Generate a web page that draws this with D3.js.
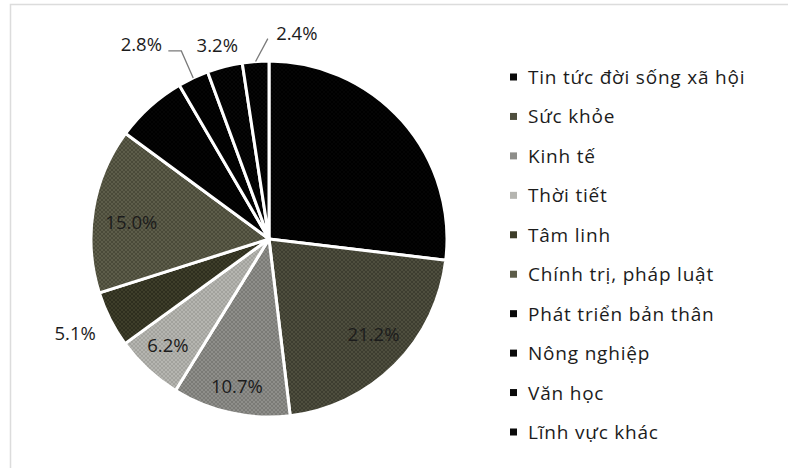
<!DOCTYPE html>
<html>
<head>
<meta charset="utf-8">
<script src="https://cdn.jsdelivr.net/npm/d3@7"></script>
<style>
  html, body { margin: 0; padding: 0; background: #ffffff; }
  svg { display: block; }
  text { font-family: "Open Sans", Lato, sans-serif; fill: #1c1c1c; }
</style>
</head>
<body>
<svg id="chart" width="795" height="471"></svg>
<script>
// Share of readers by topic (%), clockwise from 12 o'clock
const categories = [
  "Tin tức đời sống xã hội",
  "Sức khỏe",
  "Kinh tế",
  "Thời tiết",
  "Tâm linh",
  "Chính trị, pháp luật",
  "Phát triển bản thân",
  "Nông nghiệp",
  "Văn học",
  "Lĩnh vực khác"
];
const values = [26.9, 21.2, 10.7, 6.2, 5.1, 15.0, 6.5, 2.8, 3.2, 2.4];
// Which slices carry a percentage label
const showLabel = [false, true, true, true, true, true, false, true, true, true];

// Slice fills: base tone and a darker speckle tone for the halftone texture
const fills = [
  ["#050505", "#000000"],
  ["#4e4e3e", "#3d3d30"],
  ["#8e8e8a", "#7a7a76"],
  ["#b5b5b0", "#a2a29d"],
  ["#3e3e2a", "#2e2e1e"],
  ["#5d5d4a", "#4a4a39"],
  ["#050505", "#000000"],
  ["#050505", "#000000"],
  ["#070707", "#000000"],
  ["#060606", "#000000"]
];

// Label placement: radius as a fraction of the pie radius, plus an angular nudge (degrees)
const labelPlace = [
  null,
  { rf: 0.79, da: -3 },
  { rf: 0.84, da: 0 },
  { rf: 0.82, da: 1 },
  { rf: 1.21, da: 1 },
  { rf: 0.78, da: -2 },
  null,
  { rf: 1.31, da: -8 },
  { rf: 1.13, da: -0.5 },
  { rf: 1.17, da: 12 }
];

const svg = d3.select("#chart");
const cx = 269, cy = 239, R = 178;

// faint frame around the chart area
svg.append("path")
  .attr("d", "M10.5,468 L10.5,4.5 L788,4.5")
  .attr("fill", "none")
  .attr("stroke", "#dcdcdc")
  .attr("stroke-width", 1.5);

// halftone textures
const defs = svg.append("defs");
fills.forEach((f, i) => {
  const p = defs.append("pattern")
    .attr("id", "tex" + i)
    .attr("patternUnits", "userSpaceOnUse")
    .attr("width", 4).attr("height", 4);
  p.append("rect").attr("width", 4).attr("height", 4).attr("fill", f[0]);
  p.append("rect").attr("x", 0).attr("y", 0).attr("width", 2).attr("height", 2).attr("fill", f[1]);
  p.append("rect").attr("x", 2).attr("y", 2).attr("width", 2).attr("height", 2).attr("fill", f[1]);
});

const pie = d3.pie().sort(null).value(d => d)(values);
const arc = d3.arc().innerRadius(0).outerRadius(R);

const g = svg.append("g").attr("transform", `translate(${cx},${cy})`);

g.selectAll("path.slice")
  .data(pie)
  .join("path")
  .attr("class", "slice")
  .attr("d", arc)
  .attr("fill", (d, i) => `url(#tex${i})`)
  .attr("stroke", "#ffffff")
  .attr("stroke-width", 3)
  .attr("stroke-linejoin", "round");

// polar helper: angle measured clockwise from 12 o'clock
const polar = (a, r) => [r * Math.sin(a), -r * Math.cos(a)];
const mid = d => (d.startAngle + d.endAngle) / 2;

const labelPos = (d, i) => {
  const lp = labelPlace[i];
  return polar(mid(d) + lp.da * Math.PI / 180, R * lp.rf);
};

// leader lines for the small outer slices
const leaders = [
  { i: 7, path: d => {
      const p0 = polar(mid(d), R);
      const lab = labelPos(d, 7);
      return [p0, [lab[0] + 40, lab[1] + 7], [lab[0] + 27, lab[1] + 7]];
    } },
  { i: 9, path: d => {
      const p0 = polar(mid(d), R);
      const lab = labelPos(d, 9);
      return [p0, [lab[0] - 29, lab[1] + 6]];
    } }
];
leaders.forEach(L => {
  g.append("path")
    .attr("d", d3.line()(L.path(pie[L.i])))
    .attr("fill", "none")
    .attr("stroke", "#7a7a7a")
    .attr("stroke-width", 1.3);
});

g.selectAll("text.val")
  .data(pie.filter((d, i) => showLabel[i]))
  .join("text")
  .attr("class", "val")
  .attr("text-anchor", "middle")
  .attr("dominant-baseline", "central")
  .attr("font-size", 18.5)
  .attr("transform", d => {
    const p = labelPos(d, d.index);
    return `translate(${p[0]},${p[1]})`;
  })
  .text(d => d3.format(".1f")(d.data) + "%");

// legend
const legend = svg.append("g").attr("transform", "translate(510,77)");
const rowY = d3.scalePoint().domain(d3.range(categories.length)).range([0, 355]);
const rows = legend.selectAll("g.row")
  .data(categories)
  .join("g")
  .attr("class", "row")
  .attr("transform", (d, i) => `translate(0,${rowY(i)})`);
rows.append("rect")
  .attr("x", 0).attr("y", -3.5)
  .attr("width", 7).attr("height", 7)
  .attr("fill", (d, i) => fills[i][1] === "#000000" ? "#0a0a0a" : fills[i][0]);
rows.append("text")
  .attr("x", 18)
  .attr("dominant-baseline", "central")
  .attr("font-size", 19)
  .attr("letter-spacing", 0.8)
  .text(d => d);
</script>
</body>
</html>
